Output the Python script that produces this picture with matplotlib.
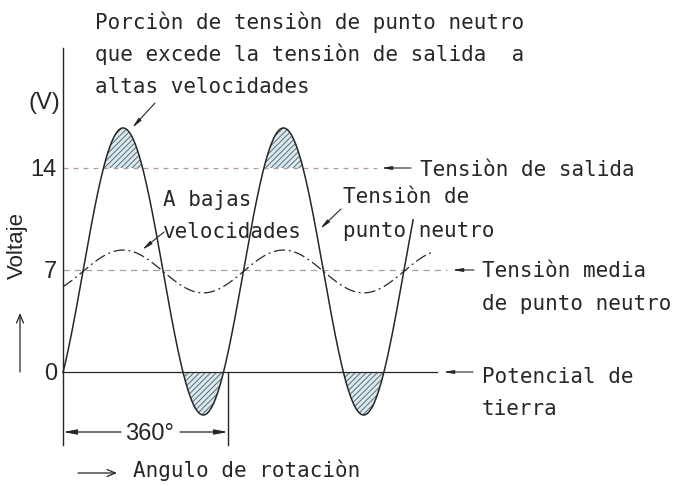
import numpy as np
import matplotlib.pyplot as plt

# valores
levels_v = [14, 7, 0]
level_labels = ["14", "7", "0"]
level_end_deg = [685, 838, 816]       # donde termina cada linea de referencia
output_mean_v, output_amp_v = 6.9, 9.85
neutral_mean_v, neutral_amp_v = 6.9, 1.47
wave_period_deg = 350
wave_peak_deg = 131
output_span_deg = [0, 764]
neutral_span_deg = [0, 807]
bracket_deg = [0, 360]

INK = '#262626'
MONO = 'DejaVu Sans Mono'
SANS = 'Liberation Sans'

# escala del dibujo: 0 grados en x=63 px, 0 V en y=372 px
X0, SX = 63, 0.4583
Y0, SY = 372, 14.57


def P(xp, yp):
    return (xp - X0) / SX, (Y0 - yp) / SY


fig = plt.figure(figsize=(6.74, 4.86), dpi=100)
ax = fig.add_axes([0, 0, 1, 1])
ax.axis('off')
ax.set_xlim(P(0, 0)[0], P(674, 0)[0])
ax.set_ylim(P(0, 486)[1], P(0, 0)[1])
plt.rcParams['hatch.linewidth'] = 0.6

deg = np.linspace(output_span_deg[0], output_span_deg[1], 1000)
out = output_mean_v + output_amp_v * np.cos(2 * np.pi * (deg - wave_peak_deg) / wave_period_deg)
deg_n = np.linspace(neutral_span_deg[0], neutral_span_deg[1], 1000)
neu = neutral_mean_v + neutral_amp_v * np.cos(2 * np.pi * (deg_n - wave_peak_deg) / wave_period_deg)

# zonas rayadas
ax.fill_between(deg, levels_v[0], out, where=out > levels_v[0], interpolate=True,
                facecolor='#d6eaf2', edgecolor='#555555', hatch='//////', lw=0)
ax.fill_between(deg, levels_v[2], out, where=out < levels_v[2], interpolate=True,
                facecolor='#d6eaf2', edgecolor='#555555', hatch='//////', lw=0)

# lineas de referencia
ax.plot([0, level_end_deg[0]], [levels_v[0]] * 2, color='#b39ba5', lw=0.9, ls=(0, (4, 4)))
ax.plot([0, level_end_deg[1]], [levels_v[1]] * 2, color='#a89ea2', lw=0.9, ls=(0, (5, 4)))
ax.plot([0, level_end_deg[2]], [levels_v[2]] * 2, color=INK, lw=0.9)

ax.plot(deg, out, color=INK, lw=1.1)
ax.plot(deg_n, neu, color=INK, lw=0.9, ls=(0, (9, 3, 1.5, 3)))

# eje y cota de 360
y_bot = P(0, 445)[1]
ax.plot([bracket_deg[0]] * 2, [P(0, 48)[1], y_bot], color=INK, lw=1.0)
ax.plot([bracket_deg[1]] * 2, [0, y_bot], color=INK, lw=1.0)
yb = P(0, 432)[1]
head = dict(arrowstyle='-|>,head_length=0.8,head_width=0.15', color=INK, lw=0.9,
            shrinkA=0, shrinkB=0)
ax.annotate('', xy=(bracket_deg[0], yb), xytext=(P(121, 0)[0], yb), arrowprops=head)
ax.annotate('', xy=(bracket_deg[1], yb), xytext=(P(180, 0)[0], yb), arrowprops=head)
ax.text(P(150, 0)[0], P(0, 440)[1], '360°', ha='center', va='baseline',
        fontsize=17, family=SANS, color=INK)

# lineas de llamada
lead = dict(arrowstyle='-|>,head_length=0.6,head_width=0.1', color=INK, lw=0.8,
            shrinkA=0, shrinkB=0)
for a, b in [((132, 128), (155, 103)), ((142, 250), (164, 232)), ((320, 229), (341, 209)),
             ((381, 168), (411, 168)), ((452, 270), (474, 270)), ((443, 372), (473, 372))]:
    ax.annotate('', xy=P(*a), xytext=P(*b), arrowprops=lead)

open_arrow = dict(arrowstyle='->,head_length=0.6,head_width=0.25', color=INK, lw=0.9,
                  shrinkA=0, shrinkB=0)
ax.annotate('', xy=P(117, 473), xytext=P(78, 473), arrowprops=open_arrow)
ax.annotate('', xy=P(20, 313), xytext=P(20, 372), arrowprops=open_arrow)


def T(xp, yp, s, **kw):
    opts = dict(fontsize=15, family=MONO, color=INK, va='baseline', ha='left')
    opts.update(kw)
    ax.text(*P(xp, yp), s, **opts)


T(95, 29, "Porciòn de tensiòn de punto neutro")
T(95, 61, "que excede la tensiòn de salida  a")
T(95, 93, "altas velocidades")
T(163, 206, "A bajas")
T(163, 238, "velocidades")
T(343, 203, "Tensiòn de")
T(343, 237, "punto neutro")
T(420, 176, "Tensiòn de salida")
T(482, 277, "Tensiòn media")
T(482, 310, "de punto neutro")
T(482, 383, "Potencial de")
T(482, 415, "tierra")
T(133, 477, "Angulo de rotaciòn")

T(60, 109, "(V)", family=SANS, fontsize=17, ha='right')
for lv, lab in zip(levels_v, level_labels):
    T(57, Y0 - lv * SY + 8, lab, family=SANS, fontsize=17, ha='right')
T(17, 245, "Voltaje", family=SANS, fontsize=16, ha='center', va='center', rotation=90)

fig.savefig('out.png', dpi=100)
